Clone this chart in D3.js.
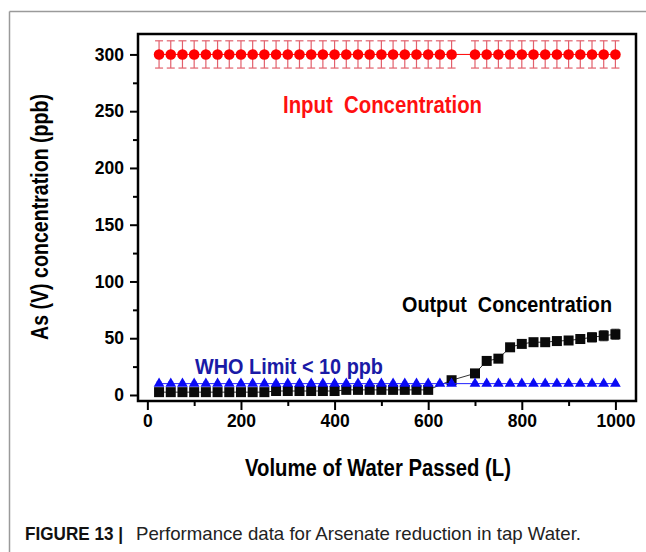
<!DOCTYPE html>
<html>
<head>
<meta charset="utf-8">
<script src="https://cdn.jsdelivr.net/npm/d3@7"></script>
<style>
  html, body { margin: 0; padding: 0; background: #fff; }
  svg { display: block; }
</style>
</head>
<body>
<svg id="chart" width="646" height="552"></svg>
<script>
// ---- data ----
const volume = [25, 50, 75, 100, 125, 150, 175, 200, 225, 250,
                275, 300, 325, 350, 375, 400, 425, 450, 475, 500,
                525, 550, 575, 600, 625, 650, 675, 700, 725, 750,
                775, 800, 825, 850, 875, 900, 925, 950, 975, 1000];

const inputConc = [300, 300, 300, 300, 300, 300, 300, 300, 300, 300,
                   300, 300, 300, 300, 300, 300, 300, 300, 300, 300,
                   300, 300, 300, 300, 300, 300, null, 300, 300, 300,
                   300, 300, 300, 300, 300, 300, 300, 300, 300, 300];
const inputErr = [12, 12, 12, 12, 12, 12, 12, 12, 12, 12,
                  12, 12, 12, 12, 12, 12, 12, 12, 12, 12,
                  12, 12, 12, 12, 12, 12, null, 12, 12, 12,
                  12, 12, 12, 12, 12, 12, 12, 12, 12, 12];

const outputConc = [2.5, 2.5, 2.5, 2.5, 2.5, 2.5, 2.5, 2.5, 2.5, 2.5,
                    3.5, 3.5, 3.5, 3.5, 3.5, 3.5, 4.5, 4.5, 4.5, 4.5,
                    4.5, 4.5, 4.5, 4.5, null, 13, null, 19, 30, 32,
                    42, 45, 46.5, 46.5, 47.5, 48, 49.3, 50.8, 52.2, 53.5];
const outputErr = [1, 1, 1, 1, 1, 1, 1, 1, 1, 1,
                   1, 1, 1, 1, 1, 1, 1, 1, 1, 1,
                   1, 1, 1, 1, null, 1.5, null, 1.5, 1.5, 1.5,
                   2, 2.5, 3, 3, 3, 3.5, 3.5, 4, 4.5, 4.5];

const whoLimit = [10, 10, 10, 10, 10, 10, 10, 10, 10, 10,
                  10, 10, 10, 10, 10, 10, 10, 10, 10, 10,
                  10, 10, 10, 10, 10, 10, null, 10, 10, 10,
                  10, 10, 10, 10, 10, 10, 10, 10, 10, 10];
const whoErr = [1.5, 1.5, 1.5, 1.5, 1.5, 1.5, 1.5, 1.5, 1.5, 1.5,
                1.5, 1.5, 1.5, 1.5, 1.5, 1.5, 1.5, 1.5, 1.5, 1.5,
                1.5, 1.5, 1.5, 1.5, 1.5, 1.5, null, 1.5, 1.5, 1.5,
                1.5, 1.5, 1.5, 1.5, 1.5, 1.5, 1.5, 1.5, 1.5, 1.5];

const xMajorTicks = [0, 200, 400, 600, 800, 1000];
const xMinorTicks = [100, 300, 500, 700, 900];
const yMajorTicks = [0, 50, 100, 150, 200, 250, 300];
const yMinorTicks = [25, 75, 125, 175, 225, 275];

const xTitle = "Volume of Water Passed (L)";
const yTitle = "As (V) concentration (ppb)";
const inputLabel = "Input\u00A0\u00A0Concentration";
const outputLabel = "Output\u00A0\u00A0Concentration";
const whoLabel = "WHO Limit < 10 ppb";
const captionBold = "FIGURE 13 |";
const captionText = "Performance data for Arsenate reduction in tap Water.";

// ---- layout ----
const svg = d3.select("#chart");
const plot = { left: 138, right: 636, top: 34, bottom: 401 };
const x = d3.scaleLinear().domain([-20, 1044]).range([plot.left, plot.right]);
const y = d3.scaleLinear().domain([-5.3, 318]).range([plot.bottom, plot.top]);

const narrow = "'Liberation Sans Narrow','Arial Narrow','Liberation Sans',Arial,sans-serif";
const sans = "'Liberation Sans',Arial,Helvetica,sans-serif";

// outer figure border (gray, top & left)
svg.append("line").attr("x1", 9.5).attr("x2", 646).attr("y1", 11.5).attr("y2", 11.5)
  .attr("stroke", "#9a9a9a").attr("stroke-width", 1.5);
svg.append("line").attr("x1", 9.5).attr("x2", 9.5).attr("y1", 11.5).attr("y2", 552)
  .attr("stroke", "#9a9a9a").attr("stroke-width", 1.5);

// axes
function styleAxis(g) {
  g.select(".domain").remove();
  g.selectAll(".tick line").attr("stroke", "#000").attr("stroke-width", 2);
  g.selectAll(".tick text").attr("fill", "#000").attr("font-family", sans)
    .attr("font-weight", "bold").attr("font-size", 17.5);
}
svg.append("g").attr("transform", `translate(0,${plot.bottom})`)
  .call(d3.axisBottom(x).tickValues(xMajorTicks).tickSize(9).tickPadding(5).tickFormat(d3.format("d")))
  .call(styleAxis);
svg.append("g").attr("transform", `translate(0,${plot.bottom})`)
  .call(d3.axisBottom(x).tickValues(xMinorTicks).tickSize(5).tickFormat(""))
  .call(styleAxis);
svg.append("g").attr("transform", `translate(${plot.left},0)`)
  .call(d3.axisLeft(y).tickValues(yMajorTicks).tickSize(8).tickPadding(6).tickFormat(d3.format("d")))
  .call(styleAxis);
svg.append("g").attr("transform", `translate(${plot.left},0)`)
  .call(d3.axisLeft(y).tickValues(yMinorTicks).tickSize(5).tickFormat(""))
  .call(styleAxis);

// series helpers
const rows = (vals, errs) => volume.map((v, i) => ({ x: v, y: vals[i], e: errs[i] })).filter(d => d.y != null);
const lineGen = d3.line().x(d => x(d.x)).y(d => y(d.y));

function errorBars(data, color, capW, width) {
  const g = svg.append("g").attr("stroke", color).attr("stroke-width", width);
  data.forEach(d => {
    const x0 = x(d.x), yt = y(d.y + d.e), yb = y(d.y - d.e);
    g.append("line").attr("x1", x0).attr("x2", x0).attr("y1", yt).attr("y2", yb);
    g.append("line").attr("x1", x0 - capW / 2).attr("x2", x0 + capW / 2).attr("y1", yt).attr("y2", yt);
    g.append("line").attr("x1", x0 - capW / 2).attr("x2", x0 + capW / 2).attr("y1", yb).attr("y2", yb);
  });
}

const inputData = rows(inputConc, inputErr);
const outputData = rows(outputConc, outputErr);
const whoData = rows(whoLimit, whoErr);

// Output (black squares)
errorBars(outputData, "#555", 8, 1);
svg.append("path").datum(outputData).attr("d", lineGen)
  .attr("fill", "none").attr("stroke", "#333").attr("stroke-width", 1);
svg.append("g").selectAll("rect").data(outputData).join("rect")
  .attr("x", d => x(d.x) - 5).attr("y", d => y(d.y) - 5)
  .attr("width", 10).attr("height", 10).attr("fill", "#0a0a0a");

// WHO limit (blue triangles)
errorBars(whoData, "#5a5ad0", 5, 1);
svg.append("path").datum(whoData).attr("d", lineGen)
  .attr("fill", "none").attr("stroke", "#2020ff").attr("stroke-width", 1);
svg.append("g").selectAll("path").data(whoData).join("path")
  .attr("d", d3.symbol().type(d3.symbolTriangle).size(50))
  .attr("transform", d => `translate(${x(d.x)},${y(d.y)})`)
  .attr("fill", "#0a0af5");

// Input (red circles)
errorBars(inputData, "#e2606c", 8, 1.2);
svg.append("path").datum(inputData).attr("d", lineGen)
  .attr("fill", "none").attr("stroke", "#f00").attr("stroke-width", 1);
svg.append("g").selectAll("circle").data(inputData).join("circle")
  .attr("cx", d => x(d.x)).attr("cy", d => y(d.y)).attr("r", 5.3).attr("fill", "#ff0000");

// plot frame
svg.append("rect").attr("x", plot.left).attr("y", plot.top)
  .attr("width", plot.right - plot.left).attr("height", plot.bottom - plot.top)
  .attr("fill", "none").attr("stroke", "#000").attr("stroke-width", 2.5);

// annotations
function label(txt, xPos, yPos, len, size, color, family, weight, extra) {
  const t = svg.append("text").attr("x", xPos).attr("y", yPos)
    .attr("font-family", family).attr("font-weight", weight).attr("font-size", size)
    .attr("fill", color).attr("textLength", len).attr("lengthAdjust", "spacingAndGlyphs")
    .text(txt);
  if (extra) extra(t);
  return t;
}
label(inputLabel, 283, 113, 199, 23, "#ff1010", narrow, "bold");
label(outputLabel, 402, 312, 210, 22, "#000", narrow, "bold");
label(whoLabel, 195, 374, 188, 22, "#1a1aa6", narrow, "bold");

// axis titles
label(xTitle, 245, 476, 266, 23, "#000", narrow, "bold");
label(yTitle, 0, 0, 246, 23, "#000", narrow, "bold",
  t => t.attr("x", null).attr("y", null).attr("transform", "translate(48,340) rotate(-90)"));

// caption
label(captionBold, 25, 540, 98, 19, "#111", narrow, "bold");
label(captionText, 136, 540, 445, 19, "#222", narrow, "normal");
</script>
</body>
</html>
